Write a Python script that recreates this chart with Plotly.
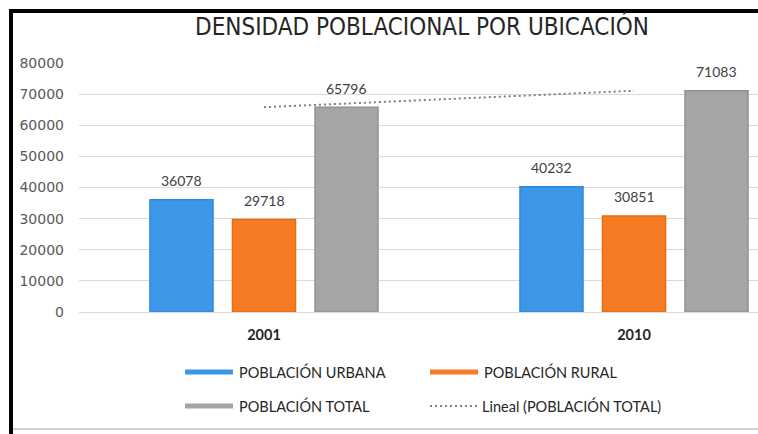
import numpy as np
import plotly.graph_objects as go

# ---- data ----
years = ["2001", "2010"]
urbana = [36078, 40232]
rural = [29718, 30851]
total = [65796, 71083]
series_names = ["POBLACIÓN URBANA", "POBLACIÓN RURAL", "POBLACIÓN TOTAL"]
trend_name = "Lineal (POBLACIÓN TOTAL)"
y_ticks = [0, 10000, 20000, 30000, 40000, 50000, 60000, 70000, 80000]
title_text = "DENSIDAD POBLACIONAL POR UBICACIÓN"

colors = ["#3d97e8", "#f57c25", "#a5a5a5"]
borders = ["#2e88dc", "#e66c12", "#929292"]

# linear trend of total (Excel-style, x = 1..n)
xi = np.arange(1, len(total) + 1)
slope, intercept = np.polyfit(xi, total, 1)
trend = list(slope * xi + intercept)

fig = go.Figure()
for name, vals, c, bc in zip(series_names, [urbana, rural, total], colors, borders):
    fig.add_trace(go.Bar(x=years, y=vals, name=name, marker=dict(color=c, line=dict(color=bc, width=1.5)),
                         showlegend=False))
fig.add_trace(go.Scatter(x=years, y=trend, mode="lines", name=trend_name,
                         line=dict(color="#7f7f7f", width=2, dash="2px,3px"), showlegend=False))

# data labels
offsets = [-82.5, 0, 82.5]
for vals, off in zip([urbana, rural, total], offsets):
    for i, v in enumerate(vals):
        fig.add_annotation(x=i, y=v, xref="x", yref="y", text=str(v), showarrow=False, xshift=off, yshift=19,
                           yanchor="middle", font=dict(family="Lato", size=14, color="#404040"))

# manual legend (paper coords)
L, R = 79, 758
T, B = 63, 312
def px(p):
    return (p - L) / (R - L)
def py(p):
    return (B - p) / (B - T)

legend_items = [
    (series_names[0], colors[0], 185, 372, "bar"),
    (series_names[1], colors[1], 430, 372, "bar"),
    (series_names[2], colors[2], 185, 406, "bar"),
    (trend_name, "#7f7f7f", 430, 406, "line"),
]
shapes = []
for name, col, x0, yc, kind in legend_items:
    if kind == "bar":
        shapes.append(dict(type="rect", xref="paper", yref="paper", x0=px(x0), x1=px(x0 + 48),
                           y0=py(yc + 2.5), y1=py(yc - 2.5), fillcolor=col, line=dict(width=0), layer="below"))
        tx = x0 + 52
    else:
        shapes.append(dict(type="line", xref="paper", yref="paper", x0=px(x0), x1=px(x0 + 48),
                           y0=py(yc), y1=py(yc), line=dict(color=col, width=2, dash="2px,3px"), layer="below"))
        tx = x0 + 50
    fig.add_annotation(xref="paper", yref="paper", x=px(tx), y=py(yc), text=name, showarrow=False,
                       xanchor="left", yanchor="middle", font=dict(family="Lato", size=14.5, color="#262626"))

# frame
shapes.append(dict(type="line", xref="paper", yref="paper", x0=px(11), x1=px(11), y0=py(9), y1=py(440),
                   line=dict(color="black", width=4), layer="below"))
shapes.append(dict(type="line", xref="paper", yref="paper", x0=px(9), x1=px(770), y0=py(11), y1=py(11),
                   line=dict(color="black", width=4), layer="below"))
shapes.append(dict(type="line", xref="paper", yref="paper", x0=px(13), x1=px(770), y0=py(429), y1=py(429),
                   line=dict(color="#d0d0d0", width=2), layer="below"))

fig.update_layout(
    width=758, height=434,
    margin=dict(l=L, r=758 - R, t=T, b=434 - B),
    paper_bgcolor="white", plot_bgcolor="white",
    barmode="group", bargap=0.331, bargroupgap=0.236,
    title=dict(text=title_text, x=422 / 758, xref="container", xanchor="center",
               y=1 - 27 / 434, yref="container", yanchor="middle",
               font=dict(family="Liberation Sans Narrow, DejaVu Sans Condensed", size=24, color="#262626")),
    shapes=shapes,
    showlegend=False,
)
fig.update_xaxes(type="category", range=[-0.5, -0.5 + (R - L) / 370], showgrid=False,
                 showline=False, ticks="", ticklabelstandoff=12,
                 tickfont=dict(family="Lato", size=14.5, color="#262626", weight="bold"))
fig.update_yaxes(range=[0, 80000], tickvals=y_ticks, ticktext=[str(v) for v in y_ticks],
                 showgrid=True, gridcolor="#d9d9d9", gridwidth=1, zeroline=True, zerolinecolor="#d9d9d9",
                 zerolinewidth=1, showline=False, ticks="", ticklabelstandoff=14,
                 tickfont=dict(family="DejaVu Sans", size=14, color="#595959"))

fig.write_html("out.html", config={"displayModeBar": False},
               post_script="document.body.style.margin='0';document.body.style.overflow='hidden';")
